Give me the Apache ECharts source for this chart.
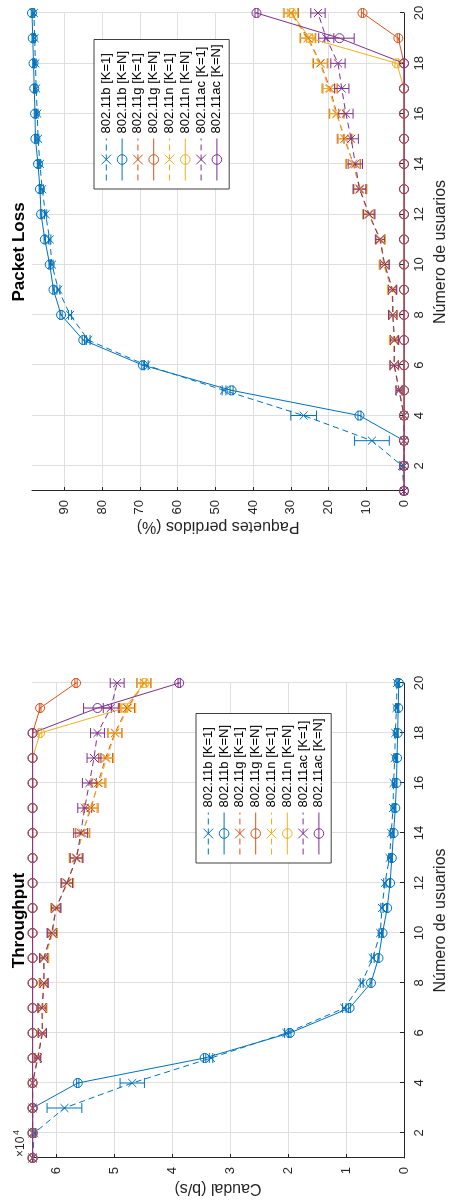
<!DOCTYPE html>
<html>
<head>
<meta charset="utf-8">
<title>Throughput / Packet Loss</title>
<script src="https://cdn.jsdelivr.net/npm/echarts@6/dist/echarts.min.js"></script>
<style>
  html, body { margin: 0; padding: 0; background: #fff; width: 454px; height: 1200px; overflow: hidden; }
  /* The figure is laid out landscape and turned a quarter turn counter-clockwise. */
  #chart { position: absolute; left: 0; top: 0; width: 1200px; height: 454px;
           transform-origin: 0 0; transform: translateY(1200px) rotate(-90deg); }
</style>
</head>
<body>
<div id="chart"></div>
<script>
// Number of users on the horizontal axis
const users = [1, 2, 3, 4, 5, 6, 7, 8, 9, 10, 11, 12, 13, 14, 15, 16, 17, 18, 19, 20];
const userTicks = [2, 4, 6, 8, 10, 12, 14, 16, 18, 20];

const seriesNames = ['802.11b [K=1]', '802.11b [K=N]', '802.11g [K=1]', '802.11g [K=N]',
                     '802.11n [K=1]', '802.11n [K=N]', '802.11ac [K=1]', '802.11ac [K=N]'];

// Throughput (b/s) and its error half-widths
const thrB_K1 = [64100, 63800, 58600, 46900, 33300, 20300, 10300, 7300, 5400, 4100, 3800, 3300, 2500, 2200, 1900, 1800, 1600, 1500, 1300, 1200];
const thrB_K1_err = [0, 200, 3000, 2100, 300, 300, 300, 250, 250, 200, 200, 200, 150, 150, 150, 150, 150, 150, 150, 150];
const thrB_KN = [64100, 64100, 64100, 56300, 34400, 19700, 9400, 5700, 4400, 3700, 2900, 2400, 2100, 1800, 1500, 1300, 1200, 1100, 1000, 900];
const thrB_KN_err = [0, 0, 0, 200, 200, 200, 150, 150, 100, 100, 100, 100, 100, 100, 100, 100, 100, 100, 100, 100];
const thrG_K1 = [64100, 64100, 64100, 64100, 63200, 62400, 62400, 62200, 62100, 60700, 60100, 58100, 56600, 55500, 54000, 52800, 51500, 49900, 47800, 44900];
const thrG_K1_err = [0, 0, 0, 0, 500, 700, 700, 700, 700, 800, 800, 1000, 1100, 1200, 1200, 1200, 1200, 1200, 1300, 1200];
const thrG_KN = [64100, 64100, 64100, 64100, 64100, 64100, 64100, 64100, 64100, 64100, 64100, 64100, 64100, 64100, 64100, 64100, 64100, 64100, 62800, 56600];
const thrG_KN_err = [0, 0, 0, 0, 0, 0, 0, 0, 0, 0, 0, 0, 0, 0, 0, 0, 0, 0, 150, 200];
const thrN_K1 = [64100, 64100, 64100, 64100, 63300, 62500, 62300, 62300, 62000, 60600, 60200, 58000, 56700, 55400, 54200, 52600, 51300, 49800, 47600, 44800];
const thrN_K1_err = [0, 0, 0, 0, 500, 700, 700, 700, 700, 800, 800, 1000, 1100, 1200, 1200, 1200, 1200, 1200, 1300, 1200];
const thrN_KN = [64100, 64100, 64100, 64100, 64100, 64100, 64100, 64100, 64100, 64100, 64100, 64100, 64100, 64100, 64100, 64100, 64100, 62800, 48200, 44800];
const thrN_KN_err = [0, 0, 0, 0, 0, 0, 0, 0, 0, 0, 0, 0, 0, 0, 0, 0, 0, 300, 500, 300];
const thrAC_K1 = [64100, 64100, 64100, 64100, 63200, 62400, 62500, 62100, 62200, 60800, 60000, 58200, 56500, 55800, 55100, 54300, 53500, 52900, 50600, 49500];
const thrAC_K1_err = [0, 0, 0, 0, 500, 700, 700, 700, 700, 800, 800, 1000, 1100, 1200, 1200, 1200, 1200, 1200, 1300, 1200];
const thrAC_KN = [64100, 64100, 64100, 64100, 64100, 64100, 64100, 64100, 64100, 64100, 64100, 64100, 64100, 64100, 64100, 64100, 64100, 64100, 52900, 38800];
const thrAC_KN_err = [0, 0, 0, 0, 0, 0, 0, 0, 0, 0, 0, 0, 0, 0, 0, 0, 0, 0, 2400, 200];
const thrTicks = [0, 10000, 20000, 30000, 40000, 50000, 60000];

// Lost packets (%) and their error half-widths
const lossB_K1 = [0, 0.5, 8.5, 26.6, 47.7, 68.3, 83.7, 88.5, 91.6, 93.3, 93.9, 95.0, 95.9, 96.5, 97.0, 97.2, 97.5, 97.7, 97.9, 98.1];
const lossB_K1_err = [0, 0.6, 4.6, 3.4, 0.5, 0.5, 0.5, 0.4, 0.4, 0.3, 0.3, 0.3, 0.3, 0.2, 0.2, 0.2, 0.2, 0.2, 0.2, 0.2];
const lossB_KN = [0, 0, 0, 11.8, 45.7, 69.2, 85.0, 90.9, 92.9, 93.9, 95.2, 96.2, 96.5, 97.0, 97.7, 97.8, 98.0, 98.2, 98.4, 98.6];
const lossB_KN_err = [0, 0, 0, 0.4, 0.4, 0.3, 0.3, 0.3, 0.2, 0.2, 0.2, 0.2, 0.2, 0.2, 0.2, 0.2, 0.2, 0.2, 0.2, 0.2];
const lossG_K1 = [0, 0, 0, 0, 1.3, 2.6, 2.6, 2.9, 3.1, 5.2, 6.2, 9.4, 11.7, 13.4, 15.8, 17.8, 19.6, 22.1, 25.4, 29.9];
const lossG_K1_err = [0, 0, 0, 0, 0.8, 1.1, 1.1, 1.1, 1.1, 1.2, 1.2, 1.5, 1.7, 1.9, 1.9, 1.9, 1.9, 1.9, 2.0, 1.9];
const lossG_KN = [0, 0, 0, 0, 0, 0, 0, 0, 0, 0, 0, 0, 0, 0, 0, 0, 0, 0, 1.5, 11.0];
const lossG_KN_err = [0, 0, 0, 0, 0, 0, 0, 0, 0, 0, 0, 0, 0, 0, 0, 0, 0, 0, 0.3, 0.3];
const lossN_K1 = [0, 0, 0, 0, 1.2, 2.5, 2.8, 2.8, 3.3, 5.4, 6.1, 9.5, 11.5, 13.6, 15.5, 18.0, 19.9, 22.3, 25.6, 30.1];
const lossN_K1_err = [0, 0, 0, 0, 0.8, 1.1, 1.1, 1.1, 1.1, 1.2, 1.2, 1.5, 1.7, 1.9, 1.9, 1.9, 1.9, 1.9, 2.0, 1.9];
const lossN_KN = [0, 0, 0, 0, 0, 0, 0, 0, 0, 0, 0, 0, 0, 0, 0, 0, 0, 1.9, 25.0, 29.8];
const lossN_KN_err = [0, 0, 0, 0, 0, 0, 0, 0, 0, 0, 0, 0, 0, 0, 0, 0, 0, 0.5, 0.8, 0.5];
const lossAC_K1 = [0, 0, 0, 0, 1.3, 2.6, 2.5, 3.0, 3.0, 5.1, 6.4, 9.2, 11.8, 12.9, 14.0, 15.4, 16.5, 17.5, 20.6, 22.8];
const lossAC_K1_err = [0, 0, 0, 0, 0.8, 1.1, 1.1, 1.1, 1.1, 1.2, 1.2, 1.5, 1.7, 1.9, 1.9, 1.9, 1.9, 1.9, 2.0, 1.9];
const lossAC_KN = [0, 0, 0, 0, 0, 0, 0, 0, 0, 0, 0, 0, 0, 0, 0, 0, 0, 0, 17.1, 39.1];
const lossAC_KN_err = [0, 0, 0, 0, 0, 0, 0, 0, 0, 0, 0, 0, 0, 0, 0, 0, 0, 0, 3.9, 0.4];
const lossTicks = [0, 10, 20, 30, 40, 50, 60, 70, 80, 90];

const palette = ['#0072BD', '#0072BD', '#D95319', '#D95319', '#EDB120', '#EDB120', '#7E2F8E', '#7E2F8E'];
const FONT = 'Liberation Sans, Arial, Helvetica, sans-serif';
const INK = '#262626';
const crossMark = 'path://M0,0L10,10M10,0L0,10';

const thrSets = [[thrB_K1, thrB_K1_err], [thrB_KN, thrB_KN_err], [thrG_K1, thrG_K1_err], [thrG_KN, thrG_KN_err],
                 [thrN_K1, thrN_K1_err], [thrN_KN, thrN_KN_err], [thrAC_K1, thrAC_K1_err], [thrAC_KN, thrAC_KN_err]];
const lossSets = [[lossB_K1, lossB_K1_err], [lossB_KN, lossB_KN_err], [lossG_K1, lossG_K1_err], [lossG_KN, lossG_KN_err],
                  [lossN_K1, lossN_K1_err], [lossN_KN, lossN_KN_err], [lossAC_K1, lossAC_K1_err], [lossAC_KN, lossAC_KN_err]];

function lineSeries(idx, axis, vals) {
  const color = palette[idx];
  const perUserK1 = idx % 2 === 0;
  return {
    type: 'line', name: seriesNames[idx], xAxisIndex: axis, yAxisIndex: axis,
    data: users.map((u, i) => [u, vals[i]]),
    symbol: perUserK1 ? crossMark : 'circle',
    symbolSize: perUserK1 ? 8 : 9,
    showAllSymbol: true, clip: false, animation: false,
    itemStyle: { color: 'none', borderColor: color, borderWidth: 1 },
    lineStyle: { color: color, width: 1, type: perUserK1 ? [6, 4] : 'solid' },
    emphasis: { disabled: true }
  };
}

function errorSeries(idx, axis, vals, errs) {
  const color = palette[idx];
  return {
    type: 'custom', name: seriesNames[idx] + ' error', xAxisIndex: axis, yAxisIndex: axis,
    silent: true, clip: false, animation: false,
    data: users.map((u, i) => [u, vals[i] - errs[i], vals[i] + errs[i]]),
    renderItem: function (params, api) {
      const lo = api.coord([api.value(0), api.value(1)]);
      const hi = api.coord([api.value(0), api.value(2)]);
      const cap = 5;
      const st = { stroke: color, lineWidth: 1 };
      return {
        type: 'group',
        children: [
          { type: 'line', shape: { x1: lo[0], y1: lo[1], x2: hi[0], y2: hi[1] }, style: st },
          { type: 'line', shape: { x1: lo[0] - cap, y1: lo[1], x2: lo[0] + cap, y2: lo[1] }, style: st },
          { type: 'line', shape: { x1: hi[0] - cap, y1: hi[1], x2: hi[0] + cap, y2: hi[1] }, style: st }
        ]
      };
    }
  };
}

const series = [];
thrSets.forEach((s, i) => { series.push(errorSeries(i, 0, s[0], s[1])); series.push(lineSeries(i, 0, s[0])); });
lossSets.forEach((s, i) => { series.push(errorSeries(i, 1, s[0], s[1])); series.push(lineSeries(i, 1, s[0])); });

function xAxisFor(gridIndex) {
  return {
    type: 'value', gridIndex: gridIndex, min: 1, max: 20,
    name: 'Número de usuarios', nameLocation: 'middle', nameGap: 29,
    nameTextStyle: { fontFamily: FONT, fontSize: 16, color: INK },
    axisLine: { onZero: false, lineStyle: { color: INK, width: 1 } },
    axisTick: { inside: true, length: 4, customValues: userTicks, lineStyle: { color: INK } },
    axisLabel: { customValues: userTicks, margin: 9, fontFamily: FONT, fontSize: 13, color: INK },
    splitLine: { show: true, lineStyle: { color: '#dfdfdf', width: 1 } }
  };
}

function yAxisFor(gridIndex, name, max, ticks, fmt, gap) {
  return {
    type: 'value', gridIndex: gridIndex, min: 0, max: max,
    name: name, nameLocation: 'middle', nameGap: gap,
    nameTextStyle: { fontFamily: FONT, fontSize: 16, color: INK },
    axisLine: { show: true, onZero: false, lineStyle: { color: INK, width: 1 } },
    axisTick: { show: true, inside: true, length: 4, customValues: ticks, lineStyle: { color: INK } },
    axisLabel: { customValues: ticks, formatter: fmt, margin: 9, fontFamily: FONT, fontSize: 13, color: INK },
    splitLine: { show: true, lineStyle: { color: '#dfdfdf', width: 1 } }
  };
}

function legendAt(left, top) {
  return {
    data: seriesNames, orient: 'vertical', left: left, top: top,
    itemWidth: 42, itemHeight: 12, itemGap: 1.2,
    padding: [5, 5, 5, 8],
    backgroundColor: '#fff', borderColor: '#404040', borderWidth: 1,
    selectedMode: false,
    itemStyle: { borderWidth: 1 },
    lineStyle: { width: 1 },
    textStyle: { fontFamily: FONT, fontSize: 13, color: '#000', lineHeight: 12 }
  };
}

const option = {
  backgroundColor: '#fff',
  animation: false,
  grid: [
    { left: 42, top: 32, width: 475, height: 377, containLabel: false },
    { left: 709, top: 32, width: 478, height: 377, containLabel: false }
  ],
  xAxis: [xAxisFor(0), xAxisFor(1)],
  yAxis: [
    yAxisFor(0, 'Caudal (b/s)', 64200, thrTicks, v => String(v / 10000), 22),
    yAxisFor(1, 'Paquetes perdidos (%)', 98.6, lossTicks, v => String(v), 26)
  ],
  legend: [legendAt(337, 196), legendAt(1011, 94)],
  graphic: [
    { type: 'text', x: 279.5, y: 19, style: { text: 'Throughput', font: 'bold 17px ' + FONT, fill: '#000', align: 'center', verticalAlign: 'middle' } },
    { type: 'text', x: 948, y: 19, style: { text: 'Packet Loss', font: 'bold 17px ' + FONT, fill: '#000', align: 'center', verticalAlign: 'middle' } },
    { type: 'text', x: 43, y: 27, style: { text: '×10', font: '12px ' + FONT, fill: INK, align: 'left', verticalAlign: 'bottom' } },
    { type: 'text', x: 65, y: 21, style: { text: '4', font: '9px ' + FONT, fill: INK, align: 'left', verticalAlign: 'bottom' } }
  ],
  series: series
};

const chart = echarts.init(document.getElementById('chart'), null, { renderer: 'canvas' });
chart.setOption(option);
</script>
</body>
</html>
